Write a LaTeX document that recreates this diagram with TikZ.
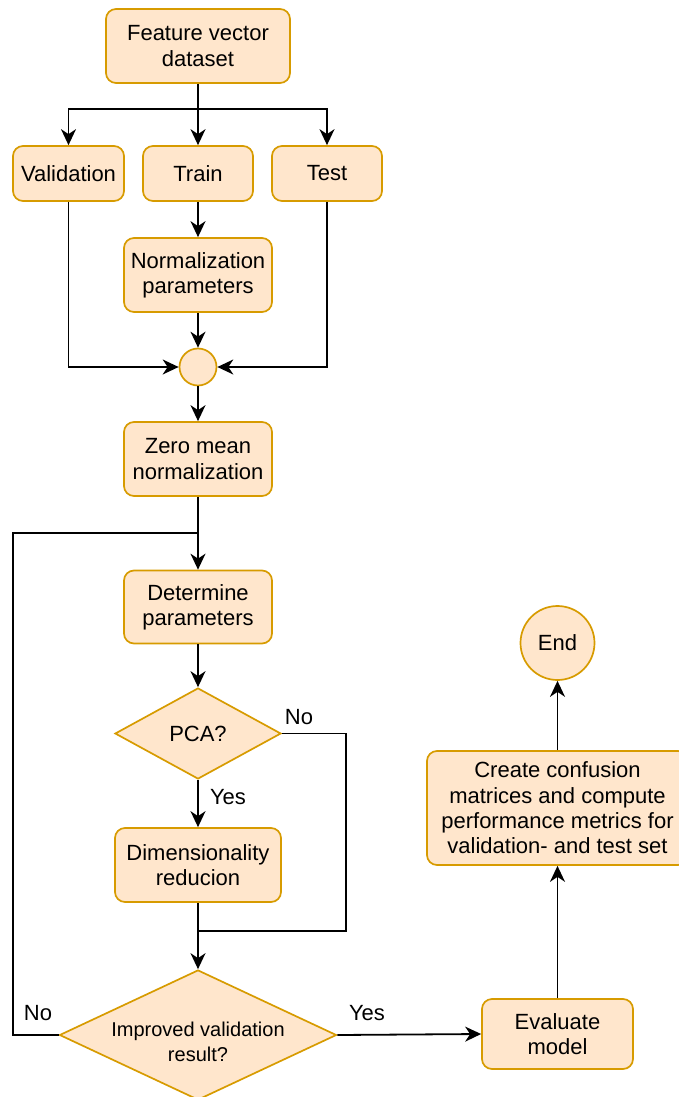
\documentclass[tikz,border=0pt]{standalone}
\usepackage{fontspec}
\setmainfont{Liberation Sans}
\usetikzlibrary{arrows.meta,shapes.geometric}
\definecolor{boxfill}{HTML}{FFE6CC}
\definecolor{boxline}{HTML}{D79B00}
\tikzset{
  txt/.style={font=\fontsize{22}{25.3}\selectfont, align=center},
  stepbox/.style={txt, draw=boxline, fill=boxfill, line width=1.7pt, rounded corners=10pt,
    inner sep=0pt},
  roundnode/.style={txt, draw=boxline, fill=boxfill, line width=1.7pt, circle, inner sep=0pt},
  dia/.style={draw=boxline, fill=boxfill, line width=1.7pt, diamond, inner sep=0pt},
  wire/.style={line width=1.8pt, draw=black},
  arr/.style={wire, -{Stealth[length=16pt,width=15pt,inset=5pt]}},
  lbl/.style={txt}
}
\begin{document}
\begin{tikzpicture}[x=1pt,y=-1pt]
\useasboundingbox (0,0) rectangle (678,1097);

% data preparation
\node[stepbox, minimum width=184pt, minimum height=74pt] (feat) at (198,46) {Feature vector\\dataset};
\node[stepbox, minimum width=111pt, minimum height=55pt] (val) at (68.5,173.5) {Validation};
\node[stepbox, minimum width=110pt, minimum height=55pt] (train) at (198,173.5) {Train};
\node[stepbox, minimum width=110pt, minimum height=55pt] (test) at (327,173.5) {Test};
\node[stepbox, minimum width=148pt, minimum height=74pt] (norm) at (198,275) {Normalization\\parameters};
\node[roundnode, minimum size=37pt] (merge) at (198,367) {};
\node[stepbox, minimum width=148pt, minimum height=74pt] (zero) at (198,459) {Zero mean\\normalization};

% model selection loop
\node[stepbox, minimum width=148pt, minimum height=73pt] (det) at (198,607) {Determine\\parameters};
\node[dia, minimum width=166pt, minimum height=91pt,
  label={[txt]center:PCA?}] (pca) at (198,733.5) {};
\node[stepbox, minimum width=166pt, minimum height=74pt] (dim) at (198,865) {Dimensionality\\reducion};
\node[dia, minimum width=277pt, minimum height=130pt,
  label={[font=\fontsize{20}{25.3}\selectfont, align=center, yshift=-7pt]center:Improved validation\\result?}] (impr) at (198,1035) {};

% evaluation
\node[stepbox, minimum width=151pt, minimum height=70pt] (eval) at (557.5,1034) {Evaluate\\model};
\node[stepbox, minimum width=261pt, minimum height=114pt] (conf) at (557.5,808) {Create confusion\\matrices and compute\\performance metrics for\\validation- and test set};
\node[roundnode, minimum size=74pt] (endc) at (557.5,643) {End};

% split of the dataset
\coordinate (split) at (198,109);
\draw[arr] (feat) -- (train);
\draw[arr] (split) -| (val);
\draw[arr] (split) -| (test);
\draw[arr] (train) -- (norm);
\draw[arr] (norm) -- (merge);
\draw[arr] (val) |- (merge);
\draw[arr] (test) |- (merge);
\draw[arr] (merge) -- (zero);
\draw[arr] (zero) -- (det);
\draw[arr] (det) -- (pca);
\draw[arr] (pca) -- (dim);
\node[lbl] (pcayes) at (228,797) {Yes};
\draw[arr] (dim) -- (impr);

% PCA skipped
\coordinate (joinR) at (346,931);
\draw[wire] (pca.east) -| (joinR) -- (joinR -| impr.north);
\node[lbl] (pcano) at (299,717) {No};

% retry loop
\coordinate (loopL) at (13,533);
\draw[wire] (impr.west) -| (loopL) -- (loopL -| det.north);
\node[lbl] (imprno) at (38,1013) {No};

% accepted model
\draw[arr] (impr.east) -- (eval.west);
\node[lbl] (impryes) at (367,1013) {Yes};
\draw[arr] (eval) -- (conf);
\draw[arr] (conf) -- (endc);
\end{tikzpicture}
\end{document}
